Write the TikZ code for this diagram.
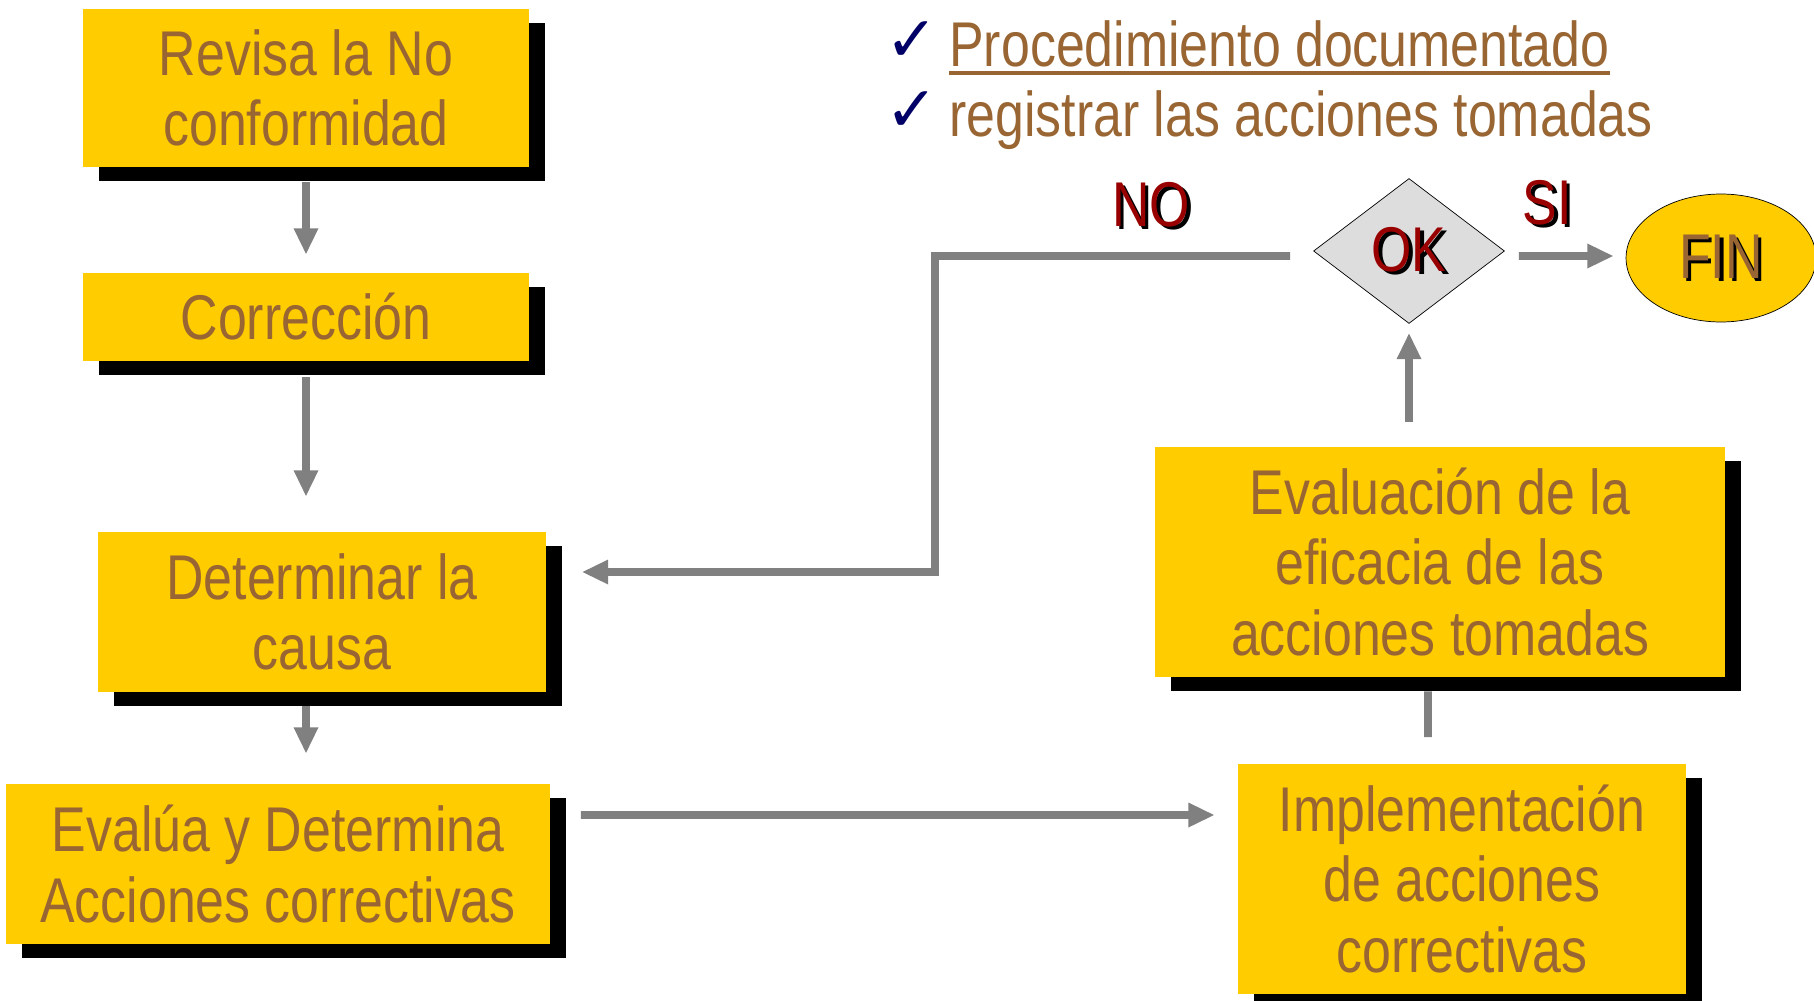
\documentclass[tikz,border=0pt]{standalone}
\usepackage{fontspec}
\setmainfont{Liberation Sans}[FakeStretch=0.82]
\newfontfamily\symfont{DejaVu Sans}
\usetikzlibrary{arrows.meta,shapes.geometric,shadows}
\definecolor{amarillo}{HTML}{FFCC00}
\definecolor{cafe}{HTML}{996633}
\definecolor{rojo}{HTML}{990000}
\definecolor{gris}{HTML}{808080}
\definecolor{azul}{HTML}{000066}
\definecolor{grisclaro}{HTML}{DDDDDD}
\newcommand\sombra[2]{\makebox[0pt][l]{\hspace{0.07cm}\raisebox{-0.06cm}{\color{black}#2}}\textcolor{#1}{#2}}
\tikzset{
  caja/.style={fill=amarillo, text=cafe, align=center, inner sep=0pt,
    font=\fontsize{36}{40}\selectfont,
    general shadow={fill=black, shadow xshift=0.32cm, shadow yshift=-0.28cm}},
  flecha/.style={draw=gris, line width=4.5pt, -{Triangle[width=13pt,length=15pt]}},
  enlace/.style={draw=gris, line width=4.5pt},
  etiqueta/.style={font=\fontsize{36}{40}\selectfont, inner sep=0pt},
  marca/.style={text=azul, inner sep=0pt, font=\symfont\fontsize{36}{38}\selectfont},
}
\begin{document}
\begin{tikzpicture}[x=0.02cm, y=-0.02cm]
\useasboundingbox (0,0) rectangle (1814,1000);
\node[caja, minimum width=8.94cm, minimum height=3.18cm] (rev) at (306,88) {Revisa la No\\conformidad};
\node[caja, minimum width=8.94cm, minimum height=1.76cm] (corr) at (306,317) {Corrección};
\node[caja, minimum width=8.98cm, minimum height=3.2cm] (causa) at (322,612) {Determinar la\\causa};
\node[caja, minimum width=10.9cm, minimum height=3.2cm] (evalua) at (278,864) {Evalúa y Determina\\Acciones correctivas};
\node[caja, minimum width=8.96cm, minimum height=4.62cm] (impl) at (1462,879) {Implementación\\de acciones\\correctivas};
\node[caja, minimum width=11.4cm, minimum height=4.6cm] (eficacia) at (1440,562) {Evaluación de la\\eficacia de las\\acciones tomadas};
\node[diamond, draw=black, fill=grisclaro, minimum width=3.82cm, minimum height=2.9cm, inner sep=0pt, font=\fontsize{36}{40}\selectfont] (ok) at (1409,251) {\sombra{rojo}{OK}};
\node[ellipse, draw=black, fill=amarillo, minimum width=3.8cm, minimum height=2.56cm, font=\fontsize{36}{40}\selectfont] (fin) at (1721,258) {\sombra{cafe}{FIN}};
\node[etiqueta] (no) at (1151,206) {\sombra{rojo}{NO}};
\node[etiqueta] (si) at (1547,204) {\sombra{rojo}{SI}};
\node[marca] (chk1) at (912,42) {✓};
\node[marca] (chk2) at (912,112) {✓};
\node[etiqueta, text=cafe, anchor=base west] (proc) at (949,67) {Procedimiento documentado};
\node[etiqueta, text=cafe, anchor=base west] (reg) at (949,137) {registrar las acciones tomadas};
\draw[cafe, line width=2.8pt] ([yshift=-0.12cm]proc.base west) -- ([yshift=-0.12cm]proc.base east);
\draw[flecha, shorten <=0.28cm, shorten >=0.36cm] (rev.south) -- (corr.north);
\draw[flecha, shorten <=0.32cm, shorten >=0.7cm] (corr.south) -- (corr.south |- causa.north);
\draw[flecha, shorten <=0.28cm, shorten >=0.6cm] (corr.south |- causa.south) -- (corr.south |- evalua.north);
\draw[flecha, shorten <=0.6cm, shorten >=0.46cm] ([yshift=0.98cm]evalua.east) -- ([yshift=1.28cm]impl.west);
\draw[enlace, shorten <=0.52cm, shorten >=0.28cm] ([xshift=-0.68cm]impl.north) -- ([xshift=-0.24cm]eficacia.south);
\draw[flecha, shorten <=0.5cm, shorten >=0.18cm] (ok.south |- eficacia.north) -- (ok.south);
\draw[flecha, shorten <=0.28cm, shorten >=0.24cm] ([yshift=-0.1cm]ok.east) -- ([yshift=0.04cm]fin.west);
\coordinate (codo) at (935,572);
\draw[flecha, shorten <=0.46cm, shorten >=0.7cm] ([yshift=-0.1cm]ok.west) -| (codo) -- ([yshift=0.8cm]causa.east);
\end{tikzpicture}
\end{document}
